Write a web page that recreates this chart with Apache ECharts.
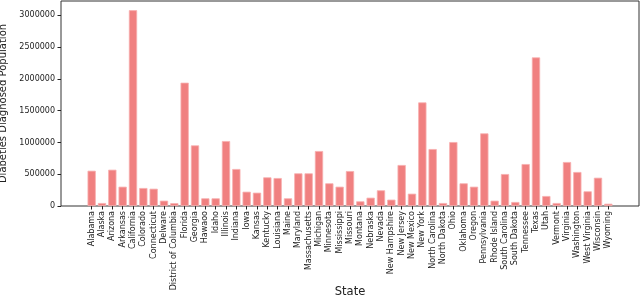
<!DOCTYPE html>
<html><head><meta charset="utf-8">
<script src="https://cdn.jsdelivr.net/npm/echarts@6/dist/echarts.min.js"></script>
<style>html,body{margin:0;padding:0;background:#fff}#c{width:640px;height:298px}</style>
</head><body><div id="c"></div>
<script>
const states = ["Alabama","Alaska","Arizona","Arkansas","California","Colorado","Connecticut","Delware","District of Columbia","Florida","Georgia","Hawaoo","Idaho","Illinois","Indiana","Iowa","Kansas","Kentucky","Louisiana","Maine","Maryland","Massachusetts","Michigan","Minnesota","Mississippi","Missouri","Montana","Nebraska","Nevada","New Hampshire","New Jersey","New Mexico","New York","North Carolina","North Dakota","Ohio","Oklahoma","Oregon","Pennsylvania","Rhode Island","South Carolina","South Dakota","Tennessee","Texas","Utah","Vermont","Virginia","Washington","West Virginia","Wisconsin","Wyoming"];
const diagnosed = [555000,47000,571000,304000,3080000,283000,272000,84000,45000,1940000,954000,121000,121000,1022000,582000,225000,210000,451000,440000,121000,514000,514000,865000,357000,304000,550000,74000,131000,247000,100000,645000,194000,1630000,896000,47000,1006000,357000,304000,1143000,84000,503000,63000,660000,2338000,157000,47000,692000,535000,231000,445000,36000];
const yTicks = [0,500000,1000000,1500000,2000000,2500000,3000000];
const yMax = 3225000;

const chart = echarts.init(document.getElementById('c'));
const font = 'DejaVu Sans';
chart.setOption({
  animation:false,
  textStyle:{fontFamily:font},
  grid:[
    {left:61, top:1, width:578, height:205, show:true, borderColor:'#333', borderWidth:1, backgroundColor:'transparent', outerBoundsMode:'none', containLabel:false},
    {left:86.5, top:1, width:527, height:205, outerBoundsMode:'none', containLabel:false}
  ],
  xAxis:[
    {gridIndex:0, type:'category', data:[''], axisLine:{show:false}, axisTick:{show:false}, axisLabel:{show:false},
     name:'State', nameLocation:'middle', nameGap:80, nameTextStyle:{fontSize:11.5, color:'#222', fontFamily:font}},
    {gridIndex:1, type:'category', data:states, boundaryGap:true, axisLine:{show:false},
     axisTick:{show:true, alignWithLabel:true, length:3.5, lineStyle:{color:'#222'}},
     axisLabel:{interval:0, rotate:90, fontSize:8, color:'#222', margin:5, fontFamily:font}}
  ],
  yAxis:[
    {gridIndex:0, type:'value', min:0, max:yMax, interval:500000, splitLine:{show:false}, axisLine:{show:false},
     axisTick:{show:true, length:3.5, lineStyle:{color:'#222'}},
     axisLabel:{fontSize:8, color:'#222', margin:6, showMaxLabel:false, fontFamily:font,
       formatter:function(v){return yTicks.indexOf(v)>=0?String(v):'';}},
     name:'Diabeties Diagnosed Population', nameLocation:'middle', nameGap:45,
     nameTextStyle:{fontSize:10, color:'#222', fontFamily:font}},
    {gridIndex:1, type:'value', min:0, max:yMax, show:false, splitLine:{show:false}}
  ],
  series:[{
    type:'bar', xAxisIndex:1, yAxisIndex:1, data:diagnosed, barWidth:'80%',
    itemStyle:{color:'#F08080', borderColor:'#f7b0b0', borderWidth:0.8}
  }]
});
</script></body></html>
